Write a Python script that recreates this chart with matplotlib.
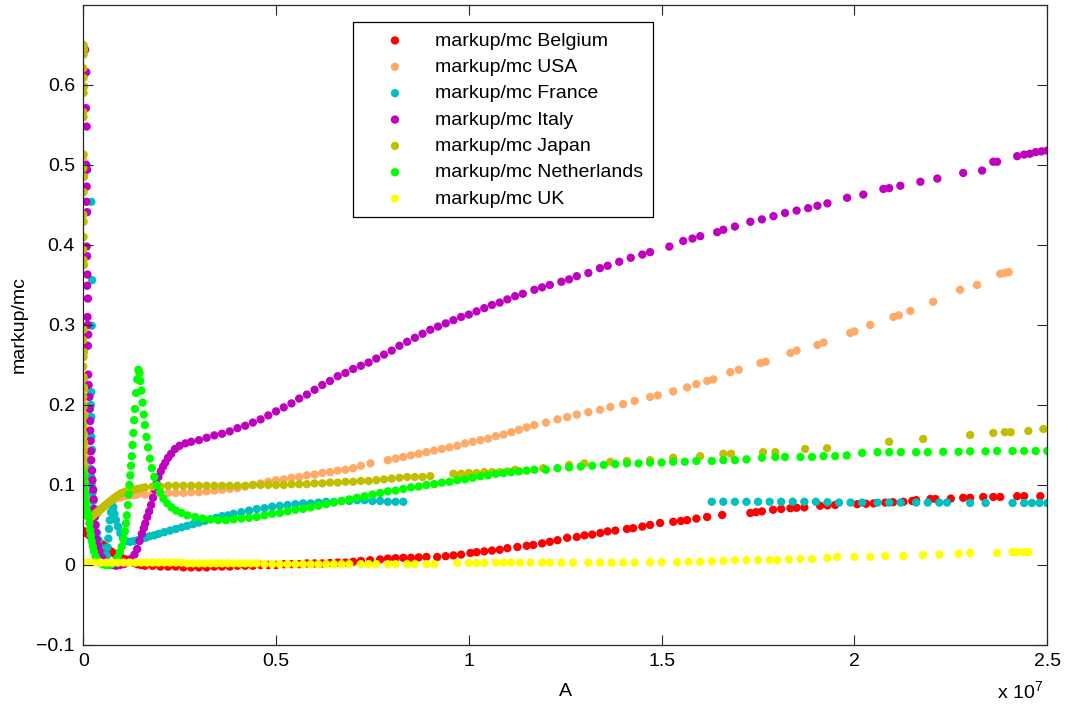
#!/usr/bin/env python3
"""
Markup over marginal cost against A, one point cloud per country
"""

import matplotlib
matplotlib.use('Agg')
import matplotlib.pyplot as plt
import numpy as np

# values: (A in units of 1e7, markup/mc)
belgium = [
    (0.000, 0.040), (0.004, 0.042), (0.008, 0.041), (0.012, 0.039), (0.016, 0.037), (0.020, 0.036),
    (0.025, 0.034), (0.030, 0.032), (0.036, 0.030), (0.042, 0.028), (0.048, 0.026), (0.054, 0.024),
    (0.060, 0.021), (0.066, 0.019), (0.072, 0.017), (0.078, 0.015), (0.085, 0.013), (0.092, 0.011),
    (0.10, 0.009), (0.11, 0.007), (0.12, 0.005), (0.13, 0.003), (0.14, 0.001), (0.15, 0.000),
    (0.16, -0.001), (0.18, -0.001), (0.20, -0.002), (0.22, -0.002), (0.24, -0.002), (0.26, -0.003),
    (0.28, -0.003), (0.30, -0.003), (0.32, -0.003), (0.34, -0.002), (0.36, -0.002), (0.38, -0.002),
    (0.40, -0.001), (0.42, -0.001), (0.44, -0.001), (0.46, 0.000), (0.48, 0.000), (0.50, 0.000),
    (0.52, 0.001), (0.54, 0.001), (0.56, 0.001), (0.58, 0.002), (0.60, 0.002), (0.62, 0.002),
    (0.64, 0.0025), (0.66, 0.003), (0.68, 0.003), (0.70, 0.004), (0.72, 0.005), (0.744, 0.006),
    (0.77, 0.007), (0.79, 0.008), (0.81, 0.0085), (0.83, 0.009), (0.85, 0.009), (0.87, 0.0095),
    (0.89, 0.010), (0.918, 0.010), (0.94, 0.011), (0.96, 0.012), (0.98, 0.013), (1.004, 0.015),
    (1.02, 0.016), (1.04, 0.017), (1.06, 0.018), (1.08, 0.019), (1.10, 0.021), (1.126, 0.0225),
    (1.15, 0.024), (1.167, 0.025), (1.19, 0.027), (1.21, 0.029), (1.23, 0.031), (1.255, 0.034),
    (1.28, 0.035), (1.30, 0.037), (1.32, 0.038), (1.341, 0.040), (1.36, 0.042), (1.38, 0.043),
    (1.41, 0.045), (1.426, 0.046), (1.45, 0.048), (1.47, 0.050), (1.496, 0.0525), (1.53, 0.054),
    (1.55, 0.055), (1.566, 0.056), (1.59, 0.058), (1.618, 0.060), (1.657, 0.0625), (1.73, 0.065),
    (1.745, 0.066), (1.76, 0.067), (1.789, 0.069), (1.81, 0.070), (1.834, 0.071), (1.85, 0.0715),
    (1.87, 0.072), (1.911, 0.074), (1.93, 0.0745), (1.95, 0.075), (2.007, 0.076), (2.03, 0.0765),
    (2.05, 0.077), (2.08, 0.078), (2.10, 0.0785), (2.127, 0.079), (2.15, 0.080), (2.16, 0.081),
    (2.197, 0.0825), (2.21, 0.0825), (2.25, 0.083), (2.282, 0.084), (2.30, 0.084), (2.334, 0.085),
    (2.36, 0.085), (2.378, 0.085), (2.422, 0.086), (2.44, 0.086), (2.482, 0.086),
]

usa = [
    (0.000, 0.512), (0.001, 0.505), (0.002, 0.488), (0.002, 0.231), (0.003, 0.220), (0.004, 0.210),
    (0.005, 0.200), (0.005, 0.190), (0.006, 0.180), (0.007, 0.168), (0.008, 0.155), (0.008, 0.145),
    (0.009, 0.135), (0.010, 0.124), (0.010, 0.113), (0.010, 0.103), (0.011, 0.093), (0.012, 0.083),
    (0.013, 0.073), (0.015, 0.064), (0.018, 0.058), (0.021, 0.055), (0.026, 0.058), (0.031, 0.061),
    (0.036, 0.064), (0.041, 0.067), (0.046, 0.070), (0.051, 0.072), (0.056, 0.074), (0.061, 0.076),
    (0.066, 0.078), (0.072, 0.080), (0.078, 0.082), (0.085, 0.083), (0.092, 0.084), (0.10, 0.085),
    (0.11, 0.086), (0.12, 0.087), (0.13, 0.087), (0.14, 0.088), (0.16, 0.088), (0.18, 0.089),
    (0.20, 0.089), (0.22, 0.090), (0.24, 0.090), (0.26, 0.090), (0.28, 0.091), (0.30, 0.091),
    (0.32, 0.092), (0.34, 0.093), (0.36, 0.094), (0.38, 0.095), (0.40, 0.096), (0.42, 0.098),
    (0.44, 0.100), (0.46, 0.102), (0.48, 0.104), (0.50, 0.106), (0.52, 0.107), (0.54, 0.109),
    (0.56, 0.110), (0.58, 0.112), (0.60, 0.113), (0.62, 0.115), (0.64, 0.116), (0.66, 0.118),
    (0.68, 0.119), (0.70, 0.121), (0.72, 0.124), (0.745, 0.127), (0.79, 0.131), (0.81, 0.133),
    (0.83, 0.135), (0.85, 0.137), (0.87, 0.139), (0.89, 0.141), (0.91, 0.143), (0.93, 0.145),
    (0.95, 0.147), (0.97, 0.149), (0.99, 0.152), (1.01, 0.154), (1.03, 0.156), (1.05, 0.158),
    (1.07, 0.161), (1.09, 0.163), (1.11, 0.166), (1.13, 0.169), (1.15, 0.172), (1.17, 0.175),
    (1.20, 0.178), (1.23, 0.182), (1.255, 0.185), (1.28, 0.188), (1.31, 0.191), (1.34, 0.194),
    (1.367, 0.1975), (1.40, 0.201), (1.43, 0.205), (1.47, 0.210), (1.49, 0.212), (1.53, 0.217),
    (1.566, 0.222), (1.59, 0.226), (1.618, 0.230), (1.634, 0.232), (1.678, 0.241), (1.70, 0.244),
    (1.756, 0.2525), (1.77, 0.254), (1.834, 0.265), (1.85, 0.268), (1.904, 0.275), (1.92, 0.278),
    (1.989, 0.290), (2.00, 0.292), (2.041, 0.300), (2.101, 0.310), (2.115, 0.312), (2.145, 0.3175),
    (2.204, 0.329), (2.274, 0.344), (2.318, 0.350), (2.378, 0.364), (2.39, 0.365), (2.40, 0.366),
]

france = [
    (0.021, 0.454), (0.023, 0.356), (0.022, 0.299), (0.021, 0.216), (0.020, 0.200), (0.021, 0.185),
    (0.021, 0.160), (0.023, 0.144), (0.019, 0.131), (0.020, 0.120), (0.021, 0.110), (0.022, 0.100),
    (0.024, 0.090), (0.026, 0.080), (0.028, 0.070), (0.030, 0.060), (0.033, 0.050), (0.036, 0.040),
    (0.040, 0.031), (0.044, 0.022), (0.048, 0.014), (0.053, 0.008), (0.058, 0.006), (0.061, 0.012),
    (0.063, 0.022), (0.065, 0.033), (0.067, 0.045), (0.069, 0.056), (0.072, 0.066), (0.075, 0.074),
    (0.078, 0.072), (0.081, 0.064), (0.085, 0.056), (0.090, 0.048), (0.096, 0.040), (0.103, 0.034),
    (0.112, 0.030), (0.122, 0.029), (0.132, 0.030), (0.142, 0.031), (0.152, 0.033), (0.162, 0.034),
    (0.172, 0.036), (0.184, 0.037), (0.196, 0.039), (0.21, 0.041), (0.225, 0.043), (0.24, 0.045),
    (0.255, 0.047), (0.27, 0.049), (0.285, 0.051), (0.30, 0.053), (0.315, 0.055), (0.33, 0.057),
    (0.345, 0.059), (0.36, 0.061), (0.375, 0.062), (0.39, 0.064), (0.41, 0.066), (0.43, 0.068),
    (0.45, 0.070), (0.47, 0.071), (0.49, 0.073), (0.51, 0.074), (0.53, 0.075), (0.55, 0.076),
    (0.57, 0.077), (0.59, 0.077), (0.61, 0.078), (0.63, 0.079), (0.65, 0.079), (0.67, 0.080),
    (0.69, 0.080), (0.71, 0.081), (0.73, 0.081), (0.75, 0.080), (0.77, 0.080), (0.79, 0.079),
    (0.81, 0.079), (0.83, 0.079),
    (1.63, 0.079), (1.66, 0.079), (1.69, 0.079), (1.72, 0.079), (1.75, 0.079), (1.78, 0.079),
    (1.81, 0.079), (1.84, 0.079), (1.87, 0.079), (1.90, 0.079), (1.93, 0.0785), (1.96, 0.078),
    (1.99, 0.078), (2.02, 0.078), (2.06, 0.078), (2.09, 0.078), (2.12, 0.078), (2.16, 0.078),
    (2.19, 0.078), (2.22, 0.078), (2.24, 0.078), (2.30, 0.0775), (2.34, 0.0775), (2.41, 0.0775),
    (2.44, 0.0775), (2.46, 0.0775), (2.48, 0.0775), (2.50, 0.0775),
]

italy = [
    (0.005, 0.644), (0.008, 0.616), (0.007, 0.571), (0.009, 0.548), (0.008, 0.500), (0.010, 0.494),
    (0.009, 0.473), (0.008, 0.454), (0.010, 0.441), (0.009, 0.398), (0.010, 0.386), (0.011, 0.363),
    (0.010, 0.349), (0.012, 0.333), (0.011, 0.310), (0.012, 0.300), (0.013, 0.288), (0.012, 0.274),
    (0.013, 0.238), (0.014, 0.225), (0.016, 0.210), (0.017, 0.195), (0.018, 0.180), (0.018, 0.168),
    (0.019, 0.155), (0.020, 0.142), (0.021, 0.131), (0.023, 0.118), (0.024, 0.106), (0.026, 0.094),
    (0.027, 0.082), (0.028, 0.070), (0.030, 0.060), (0.031, 0.050), (0.033, 0.041), (0.035, 0.032),
    (0.038, 0.024), (0.042, 0.017), (0.047, 0.010), (0.053, 0.006), (0.060, 0.003), (0.068, 0.001),
    (0.076, 0.000), (0.085, -0.001), (0.095, 0.000), (0.105, 0.001), (0.115, 0.004), (0.125, 0.008),
    (0.133, 0.013), (0.140, 0.020), (0.146, 0.030), (0.152, 0.039), (0.157, 0.046), (0.161, 0.052),
    (0.166, 0.060), (0.171, 0.067), (0.176, 0.075), (0.181, 0.084), (0.186, 0.094), (0.190, 0.102),
    (0.195, 0.110), (0.201, 0.117), (0.207, 0.123), (0.213, 0.128), (0.220, 0.134), (0.228, 0.139),
    (0.238, 0.145), (0.25, 0.149), (0.265, 0.152), (0.28, 0.154), (0.30, 0.156), (0.32, 0.159),
    (0.34, 0.162), (0.36, 0.164), (0.38, 0.167), (0.40, 0.171), (0.42, 0.174), (0.44, 0.178),
    (0.46, 0.182), (0.48, 0.187), (0.50, 0.192), (0.52, 0.197), (0.54, 0.202), (0.56, 0.208),
    (0.58, 0.213), (0.60, 0.219), (0.62, 0.225), (0.64, 0.230), (0.66, 0.236), (0.68, 0.240),
    (0.70, 0.245), (0.72, 0.249), (0.74, 0.253), (0.76, 0.258), (0.78, 0.263), (0.80, 0.268),
    (0.82, 0.274), (0.84, 0.279), (0.86, 0.284), (0.88, 0.289), (0.90, 0.294), (0.92, 0.298),
    (0.94, 0.302), (0.96, 0.306), (0.98, 0.310), (1.00, 0.313), (1.02, 0.317), (1.04, 0.321),
    (1.06, 0.325), (1.08, 0.328), (1.10, 0.332), (1.12, 0.336), (1.14, 0.339), (1.17, 0.344),
    (1.19, 0.347), (1.21, 0.350), (1.24, 0.354), (1.26, 0.357), (1.28, 0.361), (1.31, 0.365),
    (1.34, 0.371), (1.36, 0.374), (1.39, 0.379), (1.42, 0.384), (1.45, 0.388), (1.47, 0.391),
    (1.52, 0.398), (1.556, 0.405), (1.58, 0.408), (1.60, 0.411), (1.644, 0.416), (1.66, 0.419),
    (1.69, 0.423), (1.73, 0.429), (1.76, 0.432), (1.79, 0.436), (1.82, 0.440), (1.85, 0.443),
    (1.88, 0.446), (1.904, 0.449), (1.93, 0.452), (1.981, 0.459), (2.023, 0.463), (2.075, 0.470),
    (2.09, 0.471), (2.119, 0.474), (2.171, 0.479), (2.215, 0.483), (2.282, 0.490), (2.331, 0.493),
    (2.36, 0.504), (2.37, 0.504), (2.422, 0.511), (2.44, 0.513), (2.455, 0.514), (2.47, 0.516),
    (2.485, 0.517), (2.50, 0.518),
]

japan = [
    (0.001, 0.650), (0.002, 0.644), (0.001, 0.638), (0.000, 0.621), (0.001, 0.609), (0.002, 0.598),
    (0.001, 0.590), (0.000, 0.566), (0.001, 0.560), (0.001, 0.513), (0.000, 0.496), (0.002, 0.485),
    (0.001, 0.466), (0.000, 0.438), (0.001, 0.429), (0.001, 0.410), (0.000, 0.394), (0.001, 0.381),
    (0.002, 0.375), (0.001, 0.294), (0.000, 0.281), (0.002, 0.266), (0.001, 0.260), (0.000, 0.248),
    (0.001, 0.235), (0.002, 0.222), (0.000, 0.210), (0.001, 0.198), (0.002, 0.186), (0.000, 0.175),
    (0.001, 0.164), (0.002, 0.153), (0.001, 0.143), (0.000, 0.133), (0.002, 0.123), (0.001, 0.113),
    (0.003, 0.104), (0.002, 0.095), (0.004, 0.086), (0.003, 0.078), (0.005, 0.070), (0.007, 0.064),
    (0.011, 0.061), (0.016, 0.060), (0.021, 0.060), (0.026, 0.062), (0.031, 0.064), (0.036, 0.066),
    (0.041, 0.068), (0.046, 0.070), (0.051, 0.072), (0.056, 0.074), (0.061, 0.076), (0.066, 0.078),
    (0.071, 0.080), (0.076, 0.082), (0.081, 0.084), (0.087, 0.086), (0.093, 0.088), (0.10, 0.090),
    (0.11, 0.092), (0.12, 0.093), (0.13, 0.094), (0.14, 0.095), (0.15, 0.096), (0.16, 0.097),
    (0.18, 0.098), (0.20, 0.098), (0.22, 0.099), (0.24, 0.099), (0.26, 0.099), (0.28, 0.099),
    (0.30, 0.099), (0.32, 0.099), (0.34, 0.099), (0.36, 0.099), (0.38, 0.099), (0.40, 0.099),
    (0.42, 0.099), (0.44, 0.100), (0.46, 0.100), (0.48, 0.100), (0.50, 0.100), (0.52, 0.100),
    (0.54, 0.101), (0.56, 0.101), (0.58, 0.101), (0.60, 0.102), (0.62, 0.102), (0.64, 0.103),
    (0.66, 0.103), (0.68, 0.104), (0.70, 0.104), (0.72, 0.105), (0.74, 0.105), (0.76, 0.106),
    (0.78, 0.107), (0.80, 0.108), (0.82, 0.109), (0.84, 0.110), (0.86, 0.110), (0.88, 0.110),
    (0.90, 0.111), (0.96, 0.114), (0.98, 0.114), (1.00, 0.115), (1.02, 0.115), (1.04, 0.116),
    (1.06, 0.116), (1.08, 0.116), (1.10, 0.117), (1.12, 0.119), (1.193, 0.121), (1.26, 0.125),
    (1.30, 0.127), (1.367, 0.129), (1.41, 0.130), (1.47, 0.131), (1.53, 0.134), (1.60, 0.136),
    (1.66, 0.139), (1.68, 0.139), (1.763, 0.141), (1.795, 0.141), (1.872, 0.145), (1.929, 0.146),
    (2.09, 0.154), (2.178, 0.1575), (2.30, 0.1625), (2.36, 0.165), (2.39, 0.166), (2.405, 0.166),
    (2.451, 0.1675), (2.49, 0.170),
]

netherlands = [
    (0.000, 0.115), (0.001, 0.108), (0.002, 0.100), (0.003, 0.092), (0.004, 0.085), (0.006, 0.078),
    (0.008, 0.072), (0.011, 0.066), (0.014, 0.060), (0.016, 0.052), (0.018, 0.044), (0.020, 0.037),
    (0.022, 0.030), (0.025, 0.023), (0.028, 0.017), (0.032, 0.011), (0.037, 0.006), (0.043, 0.003),
    (0.050, 0.001), (0.058, 0.000), (0.066, 0.000), (0.074, 0.001), (0.082, 0.004), (0.089, 0.009),
    (0.095, 0.016), (0.100, 0.023), (0.104, 0.032), (0.108, 0.042), (0.111, 0.052), (0.113, 0.062),
    (0.116, 0.075), (0.118, 0.088), (0.120, 0.100), (0.122, 0.112), (0.124, 0.124), (0.126, 0.136),
    (0.128, 0.150), (0.130, 0.165), (0.132, 0.181), (0.134, 0.195), (0.137, 0.215), (0.140, 0.232),
    (0.143, 0.244), (0.146, 0.240), (0.148, 0.230), (0.151, 0.218), (0.154, 0.203), (0.157, 0.188),
    (0.160, 0.175), (0.164, 0.160), (0.168, 0.147), (0.173, 0.133), (0.178, 0.121), (0.184, 0.110),
    (0.191, 0.100), (0.199, 0.091), (0.208, 0.083), (0.218, 0.077), (0.229, 0.072), (0.241, 0.068),
    (0.255, 0.065), (0.27, 0.062), (0.29, 0.060), (0.31, 0.058), (0.33, 0.057), (0.35, 0.056),
    (0.37, 0.056), (0.39, 0.057), (0.41, 0.058), (0.43, 0.059), (0.45, 0.060), (0.47, 0.062),
    (0.49, 0.064), (0.51, 0.065), (0.53, 0.067), (0.55, 0.069), (0.57, 0.070), (0.59, 0.072),
    (0.61, 0.074), (0.63, 0.076), (0.65, 0.078), (0.67, 0.080), (0.69, 0.082), (0.71, 0.084),
    (0.73, 0.086), (0.75, 0.088), (0.77, 0.090), (0.79, 0.092), (0.81, 0.093), (0.83, 0.095),
    (0.85, 0.097), (0.87, 0.098), (0.89, 0.100), (0.91, 0.101), (0.93, 0.103), (0.95, 0.104),
    (0.97, 0.106), (0.99, 0.107), (1.01, 0.109), (1.03, 0.111), (1.05, 0.112), (1.07, 0.114),
    (1.09, 0.115), (1.11, 0.116), (1.13, 0.117), (1.15, 0.118), (1.17, 0.119), (1.20, 0.119),
    (1.23, 0.121), (1.26, 0.122), (1.29, 0.123), (1.32, 0.124), (1.35, 0.125), (1.38, 0.126),
    (1.41, 0.127), (1.44, 0.127), (1.47, 0.128), (1.50, 0.128), (1.53, 0.129), (1.56, 0.129),
    (1.59, 0.130), (1.63, 0.130), (1.66, 0.131), (1.69, 0.131), (1.72, 0.132), (1.76, 0.134),
    (1.795, 0.135), (1.82, 0.135), (1.86, 0.135), (1.89, 0.135), (1.92, 0.136), (1.95, 0.136),
    (1.98, 0.137), (2.02, 0.140), (2.06, 0.141), (2.09, 0.141), (2.12, 0.141), (2.16, 0.141),
    (2.19, 0.141), (2.23, 0.1415), (2.27, 0.1415), (2.30, 0.142), (2.34, 0.142), (2.37, 0.1425),
    (2.41, 0.1425), (2.44, 0.1425), (2.47, 0.1425), (2.50, 0.1425),
]

uk = [
    (0.000, 0.003), (0.015, 0.003), (0.030, 0.003), (0.045, 0.003), (0.060, 0.003), (0.075, 0.003),
    (0.090, 0.003), (0.105, 0.003), (0.120, 0.003), (0.135, 0.003), (0.150, 0.003), (0.165, 0.003),
    (0.180, 0.003), (0.195, 0.003), (0.210, 0.003), (0.225, 0.003), (0.240, 0.003), (0.255, 0.003),
    (0.270, 0.002), (0.285, 0.002), (0.300, 0.002), (0.315, 0.002), (0.330, 0.002), (0.345, 0.002),
    (0.360, 0.002), (0.375, 0.002), (0.390, 0.002), (0.405, 0.002), (0.420, 0.002), (0.435, 0.002),
    (0.450, 0.002), (0.47, 0.001), (0.49, 0.001), (0.51, 0.001), (0.53, 0.001), (0.55, 0.001),
    (0.57, 0.001), (0.59, 0.001), (0.61, 0.001), (0.63, 0.001), (0.65, 0.001), (0.67, 0.001),
    (0.69, 0.001), (0.72, 0.001), (0.74, 0.001), (0.76, 0.001), (0.79, 0.001), (0.81, 0.001),
    (0.84, 0.001), (0.86, 0.001), (0.89, 0.001), (0.91, 0.001), (0.97, 0.0025), (1.00, 0.0025),
    (1.02, 0.0025), (1.04, 0.0025), (1.07, 0.003), (1.09, 0.003), (1.11, 0.003), (1.133, 0.003),
    (1.16, 0.003), (1.19, 0.003), (1.21, 0.003), (1.24, 0.003), (1.27, 0.003), (1.31, 0.003),
    (1.34, 0.003), (1.37, 0.003), (1.40, 0.003), (1.43, 0.003), (1.47, 0.0035), (1.50, 0.0035),
    (1.54, 0.0035), (1.57, 0.004), (1.60, 0.004), (1.63, 0.0045), (1.66, 0.005), (1.69, 0.006),
    (1.72, 0.006), (1.75, 0.006), (1.78, 0.006), (1.80, 0.006), (1.83, 0.007), (1.86, 0.0075),
    (1.89, 0.0075), (1.93, 0.009), (1.955, 0.010), (2.00, 0.010), (2.041, 0.010), (2.08, 0.011),
    (2.127, 0.011), (2.178, 0.0125), (2.22, 0.013), (2.27, 0.014), (2.30, 0.015), (2.37, 0.015),
    (2.41, 0.016), (2.422, 0.016), (2.44, 0.016), (2.451, 0.016),
]

series = [
    ('markup/mc Belgium', belgium, '#ff0000'),
    ('markup/mc USA', usa, '#ffaa66'),
    ('markup/mc France', france, '#00bfbf'),
    ('markup/mc Italy', italy, '#bf00bf'),
    ('markup/mc Japan', japan, '#bfbf00'),
    ('markup/mc Netherlands', netherlands, '#00ff00'),
    ('markup/mc UK', uk, '#ffff00'),
]

plt.rcParams['font.family'] = ['Liberation Sans', 'DejaVu Sans']
plt.rcParams['mathtext.default'] = 'regular'
plt.rcParams['axes.unicode_minus'] = True

fig = plt.figure(figsize=(10.67, 7.08), dpi=100)
ax = fig.add_axes([0.078, 0.089, 0.9035, 0.904])

for label, pts, color in series:
    a, y = np.array(pts).T
    ax.scatter(a * 1e7, y, s=36, color=color, edgecolors='none', label=label)

ax.set_xlim(0, 2.5e7)
ax.set_ylim(-0.1, 0.7)
ax.set_xticks(np.arange(0, 2.51e7, 0.5e7))
ax.set_xticklabels(['0', '0.5', '1', '1.5', '2', '2.5'])
ax.set_yticks(np.arange(-0.1, 0.61, 0.1))
ax.set_yticklabels(['\u22120.1', '0', '0.1', '0.2', '0.3', '0.4', '0.5', '0.6'])
ax.tick_params(direction='in', length=7, width=0.8, top=True, right=True,
               labelsize=14, pad=6, colors='#262626', labelcolor='black')
for sp in ax.spines.values():
    sp.set_linewidth(0.9)
    sp.set_color('#262626')

ax.set_xlabel('A', fontsize=14, labelpad=9)
ax.set_ylabel('markup/mc', fontsize=14, labelpad=6)
fig.text(0.978, 0.008, 'x 10$^{7}$', ha='right', va='bottom', fontsize=14)

leg = ax.legend(loc='upper left', bbox_to_anchor=(0.28, 0.973), fontsize=14,
                frameon=True, fancybox=False, framealpha=1, edgecolor='black',
                borderpad=0.5, labelspacing=0.45, handletextpad=0.4,
                handlelength=3.3, scatterpoints=1, borderaxespad=0)
leg.get_frame().set_linewidth(0.9)

plt.savefig('out.png', dpi=100)
print("Created: out.png")
